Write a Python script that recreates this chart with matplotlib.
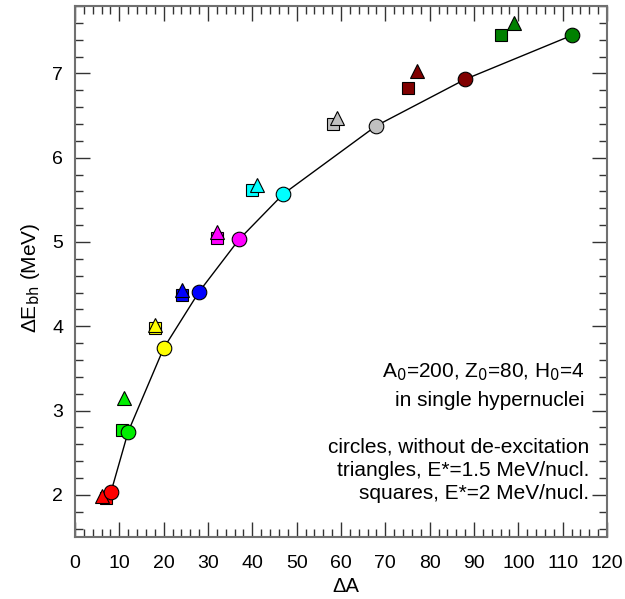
import matplotlib
matplotlib.use("Agg")
import matplotlib.pyplot as plt
from matplotlib.ticker import MultipleLocator

plt.rcParams['font.family'] = ['Liberation Sans', 'DejaVu Sans']

colors = ['red', '#00ee00', 'yellow', 'blue', 'magenta', 'cyan', '#c0c0c0', '#800000', '#008000']

circ_x = [8.1, 12.0, 20.0, 28.0, 37.0, 47.0, 68.0, 88.0, 112.0]
circ_y = [2.03, 2.75, 3.74, 4.41, 5.03, 5.57, 6.38, 6.93, 7.45]

tri_x = [6.0, 11.1, 18.0, 24.1, 32.0, 41.1, 59.0, 77.1, 99.1]
tri_y = [1.99, 3.15, 4.01, 4.43, 5.12, 5.68, 6.47, 7.03, 7.60]

sq_x = [7.1, 10.5, 18.0, 24.1, 32.1, 40.0, 58.1, 75.0, 96.1]
sq_y = [1.96, 2.77, 3.98, 4.37, 5.05, 5.62, 6.40, 6.83, 7.45]

fig = plt.figure(figsize=(6.25, 5.99), dpi=100)
ax = fig.add_axes([0.12, 0.1035, 0.8512, 0.8865])

ax.plot(circ_x, circ_y, color='black', lw=1.0, zorder=1)
for i, c in enumerate(colors):
    ax.plot(sq_x[i], sq_y[i], marker='s', ms=9, mfc=c, mec='black', mew=0.8, ls='none', zorder=2)
    ax.plot(tri_x[i], tri_y[i], marker='^', ms=10, mfc=c, mec='black', mew=0.8, ls='none', zorder=3)
    ax.plot(circ_x[i], circ_y[i], marker='o', ms=10.5, mfc=c, mec='black', mew=0.8, ls='none', zorder=4)

ax.set_xlim(0, 120)
ax.set_ylim(1.5, 7.8)
ax.xaxis.set_major_locator(MultipleLocator(10))
ax.xaxis.set_minor_locator(MultipleLocator(2))
ax.yaxis.set_major_locator(MultipleLocator(1))
ax.yaxis.set_minor_locator(MultipleLocator(0.2))
ax.tick_params(which='both', direction='in', top=True, right=True, labelsize=14, color='#333333')
ax.tick_params(which='major', length=11, width=1.0)
ax.tick_params(which='minor', length=6, width=1.0)
ax.tick_params(axis='x', which='major', pad=13)
ax.tick_params(axis='y', which='major', pad=8.5)
for s in ax.spines.values():
    s.set_color('#707070')
    s.set_linewidth(1.5)

fig.text(0.5536, 1 - 591.7 / 599, 'ΔA', fontsize=14.5, ha='center', va='baseline')
fig.text(0.048, 0.536, r'ΔE$_{\mathrm{bh}}$ (MeV)', fontsize=15, ha='center', va='center', rotation=90)

kw = dict(transform=ax.transData, ha='right', va='baseline', fontsize=15)
ax.text(115.0, 3.393, r'A$_0$=200, Z$_0$=80, H$_0$=4', **kw)
ax.text(115.0, 3.053, 'in single hypernuclei', **kw)
ax.text(116.0, 2.502, 'circles, without de-excitation', **kw)
ax.text(116.0, 2.225, 'triangles, E*=1.5 MeV/nucl.', **kw)
ax.text(116.0, 1.949, 'squares, E*=2 MeV/nucl.', **kw)

fig.savefig('out.png', dpi=100)
